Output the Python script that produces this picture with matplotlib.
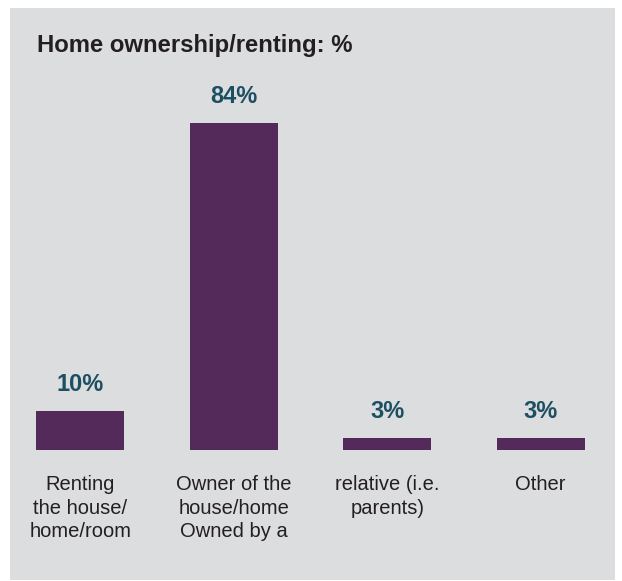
import matplotlib
matplotlib.use("Agg")
import matplotlib.pyplot as plt
from matplotlib.patches import Rectangle

categories = ["Renting\nthe house/\nhome/room", "Owner of the\nhouse/home\nOwned by a",
              "relative (i.e.\nparents)", "Other"]
values = [10, 84, 3, 3]
value_labels = ["10%", "84%", "3%", "3%"]
title = "Home ownership/renting: %"

plt.rcParams['font.family'] = ['Liberation Sans', 'DejaVu Sans']

W, H = 622, 581
fig = plt.figure(figsize=(W / 100, H / 100), dpi=100)
fig.patch.set_facecolor("white")

# grey panel
fig.patches.append(Rectangle((10 / W, 1 / H), 605 / W, 572 / H, transform=fig.transFigure,
                             facecolor="#dcdddf", edgecolor="none", zorder=-10))

spacing = 153.4
left_px = 80.4 - 0.5 * spacing
axes_h = 327 * 100 / 84
ax = fig.add_axes([left_px / W, 131 / H, 4 * spacing / W, axes_h / H])
ax.set_facecolor("none")
ax.set_zorder(5)

x = range(len(categories))
bars = ax.bar(x, values, width=0.574, color="#532a5a")
ax.set_xlim(-0.5, 3.5)
ax.set_ylim(0, 100)

for b, lab in zip(bars, value_labels):
    ax.annotate(lab, (b.get_x() + b.get_width() / 2, b.get_height()),
                xytext=(0, 14.5), textcoords="offset points", ha="center", va="baseline",
                fontsize=17, fontweight="bold", color="#1d4f62", annotation_clip=False)

ax.set_xticks(list(x))
ax.set_xticklabels(categories, fontsize=14.5, color="#231f20", linespacing=1.3)
ax.tick_params(axis="x", length=0, pad=18)
ax.set_yticks([])
for s in ax.spines.values():
    s.set_visible(False)

fig.text(37 / W, 1 - 52 / H, title, fontsize=17.2, fontweight="bold", color="#231f20",
         ha="left", va="baseline", zorder=6)

fig.savefig("out.png", dpi=100)
